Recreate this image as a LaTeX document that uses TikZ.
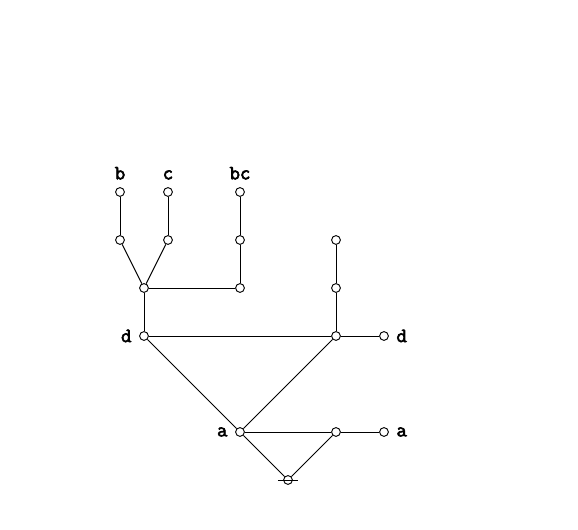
\documentclass[tikz,border=0pt]{standalone}
\usepackage{fontspec}
\newfontfamily\labelfont[FakeBold=3]{Latin Modern Mono}
\usepackage{tikz}

\begin{document}
\begin{tikzpicture}[x=1cm,y=-1cm,
	small_node/.style={circle,draw,fill=white,line width=0.55pt,minimum size=5.2pt,inner sep=0pt},
	tag/.style={font=\labelfont\fontsize{12}{12}\selectfont,label distance=1pt},
	every edge/.style={draw,line width=0.55pt}]
	\useasboundingbox (0,0) rectangle (12.042,11.042);
	% top row
	\node[small_node,label={[tag]above:b}] (b) at (2.5,4) {};
	\node[small_node,label={[tag]above:c}] (c) at (3.5,4) {};
	\node[small_node,label={[tag]above:bc}] (bc) at (5,4) {};
	\node[small_node] (b1) at (2.5,5) {};
	\node[small_node] (c1) at (3.5,5) {};
	\node[small_node] (bc1) at (5,5) {};
	\node[small_node] (r1) at (7,5) {};
	\node[small_node] (bcj) at (3,6) {};
	\node[small_node] (bc2) at (5,6) {};
	\node[small_node] (r2) at (7,6) {};
	\node[small_node,label={[tag]left:d}] (d) at (3,7) {};
	\node[small_node] (dr) at (7,7) {};
	\node[small_node,label={[tag]right:d}] (dout) at (8,7) {};
	\node[small_node,label={[tag]left:a}] (a) at (5,9) {};
	\node[small_node] (ar) at (7,9) {};
	\node[small_node,label={[tag]right:a}] (aout) at (8,9) {};
	\node[small_node] (root) at (6,10) {};
	
	\draw{(b) edge (b1)};
	\draw{(c) edge (c1)};
	\draw{(bc) edge (bc1)};
	\draw{(bc1) edge (bc2)};
	\draw{(b1) edge (bcj)};
	\draw{(c1) edge (bcj)};
	\draw{(bcj) edge (bc2)};
	\draw{(bcj) edge (d)};
	\draw{(r1) edge (r2)};
	\draw{(r2) edge (dr)};
	\draw{(d) edge (dr)};
	\draw{(dr) edge (dout)};
	\draw{(d) edge (a)};
	\draw{(dr) edge (a)};
	\draw{(a) edge (ar)};
	\draw{(ar) edge (aout)};
	\draw{(a) edge (root)};
	\draw{(ar) edge (root)};
	\draw[line width=0.55pt] ([xshift=-0.21cm]root.center) -- ([xshift=0.21cm]root.center);
\end{tikzpicture}
\end{document}
